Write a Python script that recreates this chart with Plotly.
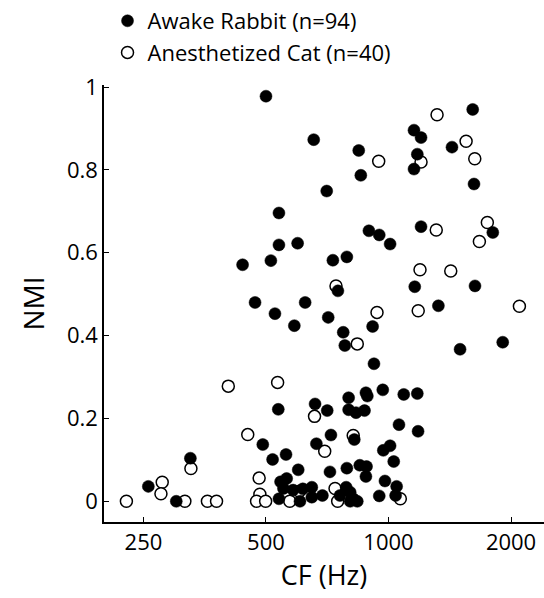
import plotly.graph_objects as go

# Awake Rabbit (filled)
rabbit_cf = [536, 491, 519, 560, 326, 257, 301, 538, 543, 562,
             921, 798, 880, 887, 968, 1090, 1177, 660, 707, 798,
             832, 873, 1061, 1182, 722, 824, 665, 971, 1009, 1030,
             718, 790, 850, 883, 880, 980, 1047, 1041, 949, 600,
             648, 688, 648, 787, 805, 760, 819, 838, 606, 552,
             583, 500, 655, 845, 855, 705, 538, 1610, 1155, 1202,
             1432, 1177, 1155, 1622, 895, 949, 1009, 1202, 1804, 790,
             1160, 1631, 1326, 914, 774, 781, 1499, 1908, 538, 598,
             438, 514, 730, 751, 470, 624, 526, 711, 587, 805, 616]
rabbit_nmi = [0.222, 0.137, 0.101, 0.113, 0.104, 0.036, 0.0, 0.006, 0.047, 0.055,
              0.332, 0.25, 0.262, 0.254, 0.269, 0.258, 0.26, 0.235, 0.219, 0.221,
              0.214, 0.219, 0.185, 0.169, 0.16, 0.149, 0.139, 0.123, 0.134, 0.096,
              0.071, 0.08, 0.087, 0.084, 0.06, 0.049, 0.036, 0.014, 0.013, 0.076,
              0.034, 0.014, 0.01, 0.034, 0.022, 0.014, 0.006, 0.0, 0.0, 0.031,
              0.027, 0.978, 0.873, 0.847, 0.787, 0.749, 0.696, 0.946, 0.896, 0.878,
              0.855, 0.838, 0.802, 0.766, 0.653, 0.643, 0.621, 0.663, 0.649, 0.59,
              0.518, 0.52, 0.472, 0.422, 0.408, 0.376, 0.367, 0.384, 0.619, 0.623,
              0.571, 0.581, 0.582, 0.508, 0.48, 0.48, 0.453, 0.444, 0.424, 0.0, 0.03]

# Anesthetized Cat (open)
cat_cf = [404, 534, 451, 327, 278, 276, 227, 316, 359, 378,
          481, 483, 474, 499, 572, 658, 819, 697, 1069, 604,
          739, 750, 1316, 1551, 1629, 946, 1202, 1749, 1310, 1672,
          1195, 1422, 2097, 1183, 937, 838, 743]
cat_nmi = [0.278, 0.287, 0.161, 0.079, 0.046, 0.018, 0.0, 0.0, 0.0, 0.0,
           0.056, 0.017, 0.0, 0.0, 0.0, 0.205, 0.159, 0.121, 0.006, 0.024,
           0.031, 0.0, 0.933, 0.869, 0.827, 0.821, 0.819, 0.673, 0.655, 0.627,
           0.559, 0.556, 0.471, 0.46, 0.456, 0.38, 0.52]

x_ticks = [250, 500, 1000, 2000]
y_ticks = [0, 0.2, 0.4, 0.6, 0.8, 1]
y_tick_text = ["0", "0.2", "0.4", "0.6", "0.8", "1"]

FONT = "Open Sans"

fig = go.Figure()
fig.add_trace(go.Scatter(
    x=cat_cf, y=cat_nmi, mode="markers",
    name="Anesthetized Cat (n=40)",
    marker=dict(symbol="circle", size=12, color="white",
                line=dict(color="black", width=1.5)),
    legendrank=2,
))
fig.add_trace(go.Scatter(
    x=rabbit_cf, y=rabbit_nmi, mode="markers",
    name="Awake Rabbit (n=94)",
    marker=dict(symbol="circle", size=12, color="black",
                line=dict(color="black", width=0.5)),
    legendrank=1,
))

fig.update_layout(
    width=544, height=598,
    margin=dict(l=104, r=0, t=84, b=76),
    paper_bgcolor="white", plot_bgcolor="white",
    font=dict(family=FONT, size=22, color="black"),
    showlegend=True,
    legend=dict(x=0.008, y=1.195, xanchor="left", yanchor="top",
                font=dict(size=22, family=FONT), bgcolor="rgba(0,0,0,0)",
                itemsizing="trace"),
    xaxis=dict(
        type="log", range=[2.301, 3.382],
        tickvals=x_ticks, ticktext=[str(v) for v in x_ticks],
        ticks="inside", ticklen=5, tickcolor="black", tickwidth=1,
        showline=True, linecolor="black", linewidth=1.5,
        showgrid=False, zeroline=False,
        tickfont=dict(size=22, family=FONT),
        title=dict(text="CF (Hz)", font=dict(size=27, family=FONT), standoff=6),
    ),
    yaxis=dict(
        range=[-0.05, 1.005],
        tickvals=y_ticks, ticktext=y_tick_text,
        ticks="inside", ticklen=5, tickcolor="black", tickwidth=1,
        showline=True, linecolor="black", linewidth=1.5,
        showgrid=False, zeroline=False,
        tickfont=dict(size=22, family=FONT),
        title=dict(text="NMI", font=dict(size=28, family=FONT), standoff=14),
    ),
)

fig.write_html("out.html")
